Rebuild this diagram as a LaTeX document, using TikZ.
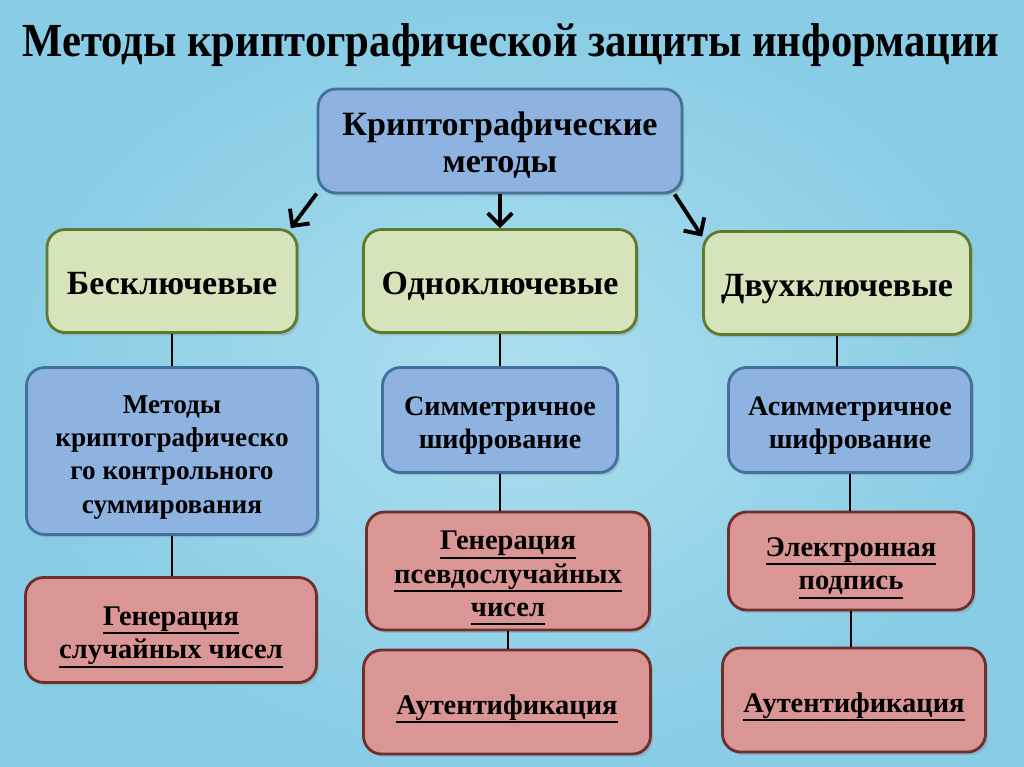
\documentclass[tikz,border=0pt]{standalone}
\usepackage{fontspec}
\setmainfont{Liberation Serif}
\newfontfamily\titlefont{Liberation Serif}[FakeStretch=0.9]
\usetikzlibrary{positioning,shadows,arrows.meta}
\definecolor{bgin}{HTML}{ACDFEF}
\definecolor{bgout}{HTML}{88CCE5}
\definecolor{bluefill}{HTML}{8EB3E1}
\definecolor{blueline}{HTML}{41719C}
\definecolor{greenfill}{HTML}{D6E4BB}
\definecolor{greenline}{HTML}{5F7A2E}
\definecolor{redfill}{HTML}{D99694}
\definecolor{redline}{HTML}{6E2E2C}
\newcommand{\undl}[1]{\leavevmode\vtop{\hbox{#1\vphantom{ру}}\kern0.4pt\hrule height 1.1pt}}
\newcommand{\boxtext}[1]{\raisebox{-0.11cm}[\height][\depth]{\begin{tabular}{@{}c@{}}#1\end{tabular}}}

\begin{document}
\begin{tikzpicture}[>={Straight Barb[length=7pt,width=14pt]}, x=0.02cm, y=-0.02cm]
% --- Layout & Styles --------------------------------------
\tikzstyle{box}=[rounded corners=0.36cm, line width=1.6pt, inner sep=0,
  drop shadow={opacity=0.3, shadow xshift=0.05cm, shadow yshift=-0.06cm}]
\tikzstyle{top node}=[box, draw=blueline, fill=bluefill, font=\bfseries\fontsize{19.4}{21.5}\selectfont]
\tikzstyle{key node}=[box, draw=greenline, fill=greenfill, font=\bfseries\fontsize{19.3}{22}\selectfont]
\tikzstyle{method node}=[box, draw=blueline, fill=bluefill, font=\bfseries\fontsize{16}{19}\selectfont]
\tikzstyle{use node}=[box, draw=redline, fill=redfill, font=\bfseries\fontsize{16.2}{19}\selectfont]
\tikzstyle{link}=[line width=1.6pt]
\tikzstyle{arrow}=[line width=2.2pt, ->]
% --- Background -------------------------------------------
\useasboundingbox (0,0) rectangle (1024,767);
\shade[inner color=bgin, outer color=bgout] (0,0) rectangle (1024,767);
\node (title) at (511,45) {\titlefont\bfseries\fontsize{27}{30}\selectfont Методы криптографической защиты информации};
% --- Boxes ------------------------------------------------
\node (0) [top node, minimum width=7.28cm, minimum height=2.08cm] at (500,141) {\boxtext{Криптографические\\методы}};
\node (0-1) [key node, minimum width=5cm, minimum height=2.06cm] at (172,281) {\boxtext{Бесключевые}};
\node (0-2) [key node, minimum width=5.46cm, minimum height=2.06cm] at (500,281) {\boxtext{Одноключевые}};
\node (0-3) [key node, minimum width=5.34cm, minimum height=2.06cm] at (837,283) {\boxtext{Двухключевые}};
\node (0-1-1) [method node, font=\bfseries\fontsize{15.5}{19}\selectfont, minimum width=5.82cm, minimum height=3.34cm] at (172,451) {\boxtext{Методы\\криптографическо\\го контрольного\\суммирования}};
\node (0-2-1) [method node, minimum width=4.7cm, minimum height=2.1cm] at (500,420) {\boxtext{Симметричное\\шифрование}};
\node (0-3-1) [method node, minimum width=4.86cm, minimum height=2.1cm] at (850,420) {\boxtext{Асимметричное\\шифрование}};
\node (0-1-1-1) [use node, minimum width=5.82cm, minimum height=2.1cm] at (171,630) {\boxtext{\undl{Генерация}\\\undl{случайных чисел}}};
\node (0-2-1-1) [use node, minimum width=5.66cm, minimum height=2.36cm] at (508,571) {\boxtext{\undl{Генерация}\\\undl{псевдослучайных}\\\undl{чисел}}};
\node (0-3-1-1) [use node, minimum width=4.9cm, minimum height=1.96cm] at (851,561) {\boxtext{\undl{Электронная}\\\undl{подпись}}};
\node (0-2-1-1-1) [use node, minimum width=5.74cm, minimum height=2.08cm] at (507,702) {\boxtext{\undl{Аутентификация}}};
\node (0-3-1-1-1) [use node, minimum width=5.26cm, minimum height=2.08cm] at (854,700) {\boxtext{\undl{Аутентификация}}};

% --- Edges ------------------------------------------------
\draw [arrow] (0.196) -- (0-1.24);
\draw [arrow] (0.south) -- (0-2.north);
\draw [arrow] (0.-17) -- (0-3.161);
\draw [link] (0-1.south) -- (0-1.south |- 0-1-1.north);
\draw [link] (0-1-1.south) -- (0-1-1.south |- 0-1-1-1.north);
\draw [link] (0-2.south) -- (0-2.south |- 0-2-1.north);
\draw [link] (0-2-1.south) -- (0-2-1.south |- 0-2-1-1.north);
\draw [link] (0-2-1-1.south) -- (0-2-1-1.south |- 0-2-1-1-1.north);
\draw [link] (0-3.south) -- (0-3.south |- 0-3-1.north);
\draw [link] (0-3-1.south) -- (0-3-1.south |- 0-3-1-1.north);
\draw [link] (0-3-1-1.south) -- (0-3-1-1.south |- 0-3-1-1-1.north);

\end{tikzpicture}
\end{document}
